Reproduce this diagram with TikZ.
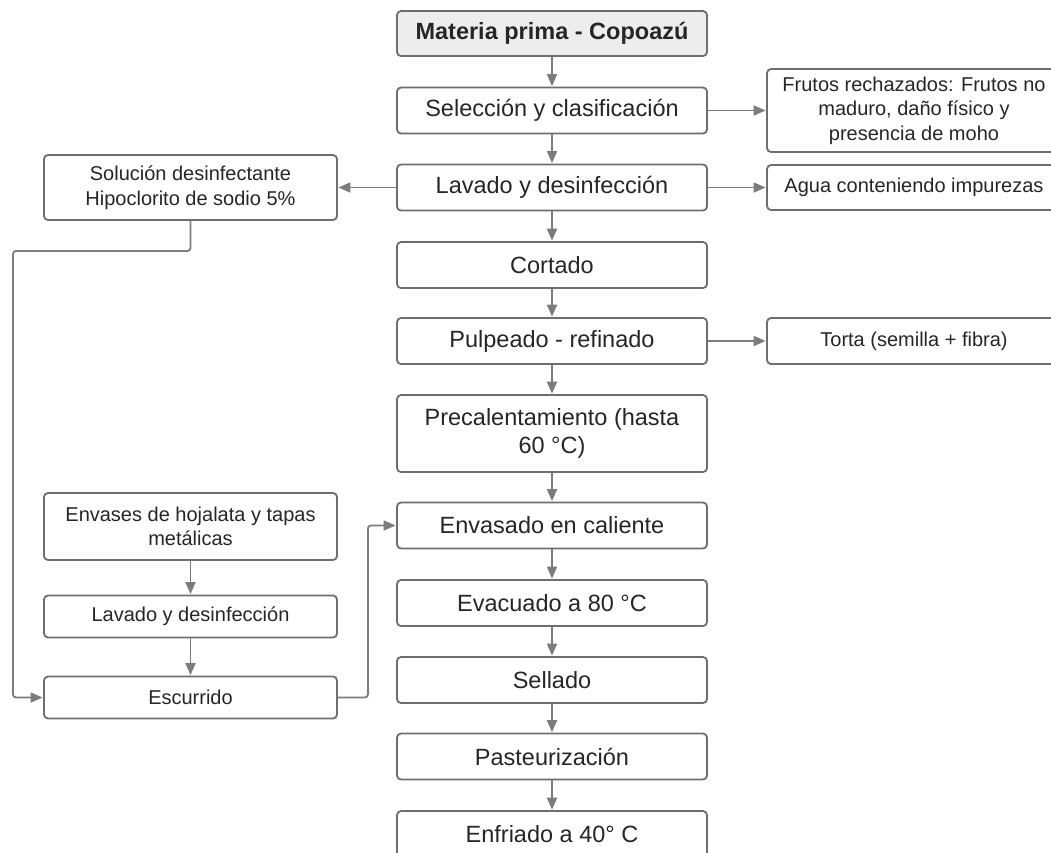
\documentclass[tikz,border=0pt]{standalone}
\usepackage{fontspec}
\setmainfont{Liberation Sans}
\usetikzlibrary{arrows.meta}
\definecolor{boxline}{HTML}{6E6E6E}
\definecolor{arrline}{HTML}{7C7C7C}
\definecolor{txt}{HTML}{262626}
\definecolor{headfill}{HTML}{EDEDED}
\tikzset{
  mainbox/.style={draw=boxline, line width=1.8pt, rounded corners=4pt, fill=white,
    minimum width=310pt, minimum height=46pt, align=center, inner sep=2pt,
    text=txt, font=\fontsize{23.5}{28}\selectfont},
  sidebox/.style={draw=boxline, line width=1.8pt, rounded corners=4pt, fill=white,
    minimum width=293pt, minimum height=45pt, align=center, inner sep=2pt,
    text=txt, font=\fontsize{20}{24.5}\selectfont},
  arr/.style={draw=arrline, line width=1.8pt, rounded corners=3pt,
    -{Triangle[length=12pt,width=10pt]}, shorten >=0.5pt}
}
\begin{document}
\begin{tikzpicture}[x=1pt,y=-1pt]
\clip (0,0) rectangle (1051,852);
\fill[white] (0,0) rectangle (1051,852);
% main column
\node[mainbox, fill=headfill, minimum height=45pt, font=\bfseries\fontsize{23.5}{28}\selectfont] (mat) at (552,33.5) {Materia prima - Copoazú};
\node[mainbox] (sel) at (552,110.5) {Selección y clasificación};
\node[mainbox] (lav) at (552,187.5) {Lavado y desinfección};
\node[mainbox] (cor) at (552,265) {Cortado};
\node[mainbox] (pul) at (552,341) {Pulpeado - refinado};
\node[mainbox, minimum height=77pt] (pre) at (552,433.5) {Precalentamiento (hasta\\60 °C)};
\node[mainbox] (env) at (552,525.5) {Envasado en caliente};
\node[mainbox] (eva) at (552,603) {Evacuado a 80 °C};
\node[mainbox] (sll) at (552,680) {Sellado};
\node[mainbox] (pas) at (552,756.5) {Pasteurización};
\node[mainbox] (enf) at (552,834) {Enfriado a 40° C};
% right column
\node[sidebox, minimum width=294pt, minimum height=83pt] (fru) at (914,110.5) {Frutos rechazados: Frutos no\\maduro, daño físico y\\presencia de moho};
\node[sidebox, minimum width=294pt] (agua) at (914,187.5) {Agua conteniendo impurezas};
\node[sidebox, minimum width=294pt, minimum height=46pt] (tor) at (914,341) {Torta (semilla + fibra)};
% left column
\node[sidebox, minimum height=65pt] (sol) at (190.5,187.5) {Solución desinfectante\\Hipoclorito de sodio 5\%};
\node[sidebox, minimum height=67pt] (envs) at (190.5,526.5) {Envases de hojalata y tapas\\metálicas};
\node[sidebox, minimum height=42pt] (lav2) at (190.5,616.5) {Lavado y desinfección};
\node[sidebox, minimum height=42pt] (esc) at (190.5,697.5) {Escurrido};
% main arrows
\draw[arr] (mat) -- (sel);
\draw[arr] (sel) -- (lav);
\draw[arr] (lav) -- (cor);
\draw[arr] (cor) -- (pul);
\draw[arr] (pul) -- (pre);
\draw[arr] (pre) -- (env);
\draw[arr] (env) -- (eva);
\draw[arr] (eva) -- (sll);
\draw[arr] (sll) -- (pas);
\draw[arr] (pas) -- (enf);
% side arrows
\draw[arr] (sel.east) -- (fru.west |- sel.east);
\draw[arr] (lav.east) -- (agua.west);
\draw[arr] (lav.west) -- (sol.east);
\draw[arr] (pul.east) -- (tor.west);
\draw[arr] (envs) -- (lav2);
\draw[arr] (lav2) -- (esc);
\coordinate (bendA) at (13,251);
\draw[arr] (sol.south) |- (bendA) |- (esc.west);
\draw[arr] (esc.east) -- ++(30,0) |- (env.west);
\end{tikzpicture}
\end{document}
